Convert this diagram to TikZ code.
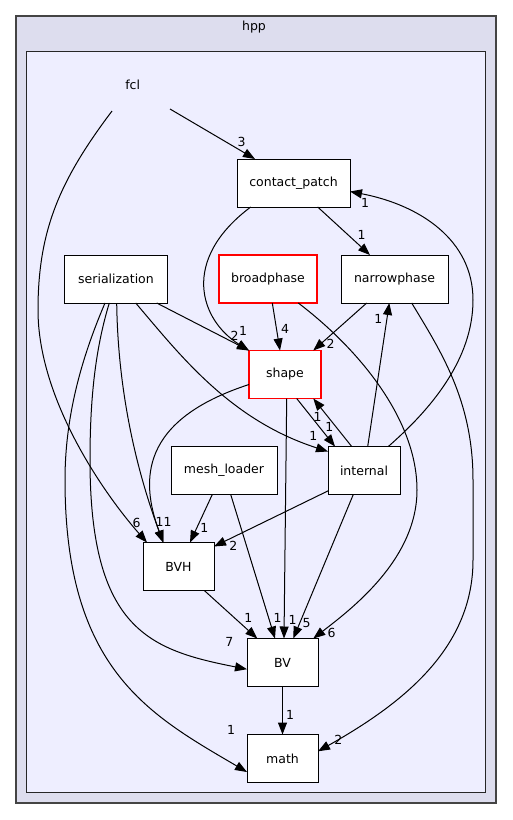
\documentclass[tikz,border=0pt]{standalone}
\usepackage{fontspec}
\setmainfont{DejaVu Sans}
\usetikzlibrary{arrows.meta}

\definecolor{hppfill}{HTML}{DDDDEE}
\definecolor{fclfill}{HTML}{EEEEFF}
\definecolor{frame}{HTML}{444444}

\tikzset{
  dirbox/.style={draw, fill=white, line width=0.9pt, inner sep=0pt, outer sep=0pt,
    minimum height=48pt, font=\fontsize{12.5}{15}\selectfont},
  subdir/.style={dirbox, draw=red, line width=1.1pt},
  edge/.style={line width=1pt, -{Triangle[length=12pt, width=9pt]}},
  lbl/.style={inner sep=0pt, font=\fontsize{12.5}{15}\selectfont},
}

\begin{document}
\begin{tikzpicture}[x=1pt, y=-1pt]
  \useasboundingbox (0,0) rectangle (512,820);

  % clusters
  \draw[frame, fill=hppfill, line width=1.5pt] (16,16) rectangle (496,803);
  \node[lbl] (hpp) at (254,27) {hpp};
  \draw[black!85, fill=fclfill, line width=1pt] (26.5,51.5) rectangle (485.5,792.5);
  \node[lbl] (fcl) at (132.7,85) {fcl};
  \coordinate (fclL) at (112,111);
  \coordinate (fclR) at (170,109);

  % directories
  \node[dirbox, minimum width=113pt] (contact) at (293.5,183) {contact\_patch};
  \node[dirbox, minimum width=103pt] (serial) at (116,279) {serialization};
  \node[subdir, minimum width=98pt] (broad) at (268,279) {broadphase};
  \node[dirbox, minimum width=107pt] (narrow) at (394.5,279) {narrowphase};
  \node[subdir, minimum width=72pt] (shape) at (285,374.5) {shape};
  \node[dirbox, minimum width=106pt] (mesh) at (224,470.5) {mesh\_loader};
  \node[dirbox, minimum width=72pt] (internal) at (364,470.5) {internal};
  \node[dirbox, minimum width=71pt] (bvh) at (178.5,566.5) {BVH};
  \node[dirbox, minimum width=71pt] (bv) at (282.5,662.5) {BV};
  \node[dirbox, minimum width=71pt] (math) at (282.5,758.5) {math};

  % edges out of fcl
  \draw[edge] (fclR) -- ([xshift=-38.5pt]contact.north)
    node[lbl] at (241.7,141.7) {3};
  \draw[edge] (fclL) .. controls (60,180) and (38,230) .. (38,310)
    .. controls (38,400) and (105,495) .. ([xshift=-31.5pt]bvh.north)
    node[lbl] at (136.7,523) {6};

  % contact_patch
  \draw[edge] ([xshift=24.2pt]contact.south) -- ([xshift=-24.5pt]narrow.north)
    node[lbl] at (361.7,235) {1};
  \draw[edge] ([xshift=-42.8pt]contact.south) .. controls (180,260) and (200,320) .. (shape.north west)
    node[lbl] at (243,331) {1};

  % serialization
  \draw[edge] ([xshift=40.7pt]serial.south) -- (shape.north west)
    node[lbl] at (234.5,336) {2};
  \draw[edge] ([xshift=19.7pt]serial.south) .. controls (180,355) and (230,420) .. ([yshift=-5pt]internal.north west)
    node[lbl] at (313.3,435.7) {1};
  \draw[edge] ([xshift=0.7pt]serial.south) .. controls (118,400) and (140,480) .. ([xshift=-15.2pt]bvh.north)
    node[lbl] at (159.5,521.7) {1};
  \draw[edge] ([xshift=-6.7pt]serial.south) .. controls (95,350) and (90,400) .. (90,460)
    .. controls (90,630) and (150,650) .. ([yshift=-6.7pt]bv.west)
    node[lbl] at (229.3,641.7) {7};
  \draw[edge] ([xshift=-11pt]serial.south) .. controls (85,350) and (65,410) .. (65,480)
    .. controls (65,670) and (150,715) .. ([yshift=-13.5pt]math.west)
    node[lbl] at (231,730) {1};

  % broadphase
  \draw[edge] ([xshift=4.3pt]broad.south) -- ([xshift=-5pt]shape.north)
    node[lbl] at (285,329.3) {4};
  \draw[edge] ([xshift=30.3pt]broad.south) .. controls (360,350) and (417,420) .. (417,490)
    .. controls (417,560) and (350,610) .. ([xshift=30.8pt]bv.north)
    node[lbl] at (331.7,632.7) {6};

  % narrowphase
  \draw[edge] ([xshift=-27.8pt]narrow.south) -- ([xshift=28.3pt]shape.north)
    node[lbl] at (330.7,344.3) {2};
  \draw[edge] ([xshift=17.2pt]narrow.south) .. controls (440,350) and (473,400) .. (473,480)
    -- (473,560) .. controls (473,650) and (400,705) .. ([yshift=-16.8pt]math.north east)
    node[lbl] at (338.3,740) {2};

  % shape
  \draw[edge] ([xshift=11.7pt]shape.south) -- ([xshift=-29pt]internal.north)
    node[lbl] at (329.3,426.7) {1};
  \draw[edge] ([yshift=-10pt]shape.west) .. controls (140,420) and (140,480) .. ([xshift=-15.2pt]bvh.north)
    node[lbl] at (167.5,521.7) {1};
  \draw[edge] ([xshift=1.7pt]shape.south) -- ([xshift=1.5pt]bv.north)
    node[lbl] at (292.7,620) {1};

  % internal
  \draw[edge] ([xshift=-12.3pt]internal.north) -- ([xshift=28.3pt]shape.south)
    node[lbl] at (317.7,416.7) {1};
  \draw[edge] ([xshift=3.7pt]internal.north) -- ([xshift=-5.2pt]narrow.south)
    node[lbl] at (378.3,319) {1};
  \draw[edge] ([xshift=24.3pt]internal.north) .. controls (430,410) and (473,360) .. (473,300)
    .. controls (473,240) and (420,205) .. ([yshift=-8.5pt]contact.east)
    node[lbl] at (365,203) {1};
  \draw[edge] ([yshift=3.6pt]internal.south west) -- ([yshift=-4pt]bvh.north east)
    node[lbl] at (233.3,545.7) {2};
  \draw[edge] ([xshift=-10.7pt]internal.south) -- ([xshift=10.8pt]bv.north)
    node[lbl] at (306.7,623.3) {5};

  % mesh_loader
  \draw[edge] ([xshift=-11.7pt]mesh.south) -- ([xshift=11.5pt]bvh.north)
    node[lbl] at (204.3,528.3) {1};
  \draw[edge] ([xshift=6.7pt]mesh.south) -- ([xshift=-7.5pt]bv.north)
    node[lbl] at (277.7,617.7) {1};

  % BVH and BV
  \draw[edge] ([xshift=25.8pt]bvh.south) -- ([xshift=-25.2pt]bv.north)
    node[lbl] at (248.3,618.3) {1};
  \draw[edge] (bv.south) -- (math.north)
    node[lbl] at (290,715) {1};
\end{tikzpicture}
\end{document}
